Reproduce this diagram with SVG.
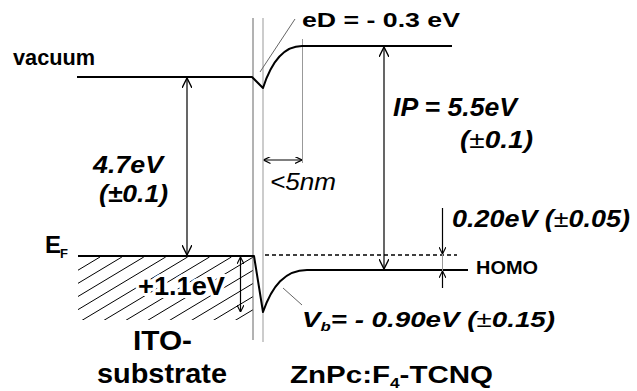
<svg xmlns="http://www.w3.org/2000/svg" width="637" height="391" viewBox="0 0 637 391">
<style>
  .lvl{fill:none;stroke:#000;stroke-width:2;stroke-linejoin:round}
  .arr{fill:none;stroke:#000;stroke-width:1.2}
  .thin{fill:none;stroke:#666;stroke-width:1}
  .lite{fill:none;stroke:#999;stroke-width:1}
  .dash{fill:none;stroke:#000;stroke-width:1.5;stroke-dasharray:4 3}
  .hatch{fill:none;stroke:#000;stroke-width:1}
  text{font-family:"Liberation Sans",Arial,sans-serif;font-weight:bold;fill:#000}
  .it{font-style:italic}
  .nw{font-weight:normal}
  .halo{paint-order:stroke;stroke:#fff;stroke-width:6;stroke-linejoin:round}
</style>
<defs>
  <marker id="ah" viewBox="0 0 10 10" refX="10" refY="5" markerWidth="10" markerHeight="10" markerUnits="userSpaceOnUse" orient="auto-start-reverse">
    <path d="M0,0 L10,5 L0,10" fill="none" stroke="#000" stroke-width="1.4"/>
  </marker>
  <marker id="as" viewBox="0 0 10 10" refX="10" refY="5" markerWidth="7" markerHeight="7" markerUnits="userSpaceOnUse" orient="auto-start-reverse">
    <path d="M0,0 L10,5 L0,10" fill="none" stroke="#000" stroke-width="1.6"/>
  </marker>
  <clipPath id="hclip"><rect x="78" y="257" width="175" height="63"/></clipPath>
</defs>

<g id="ito-substrate">
  <g clip-path="url(#hclip)">
    <path class="hatch" d="M-10,323 L100,257 M11.9,323 L121.9,257 M33.8,323 L143.8,257 M55.7,323 L165.7,257 M77.6,323 L187.6,257 M99.5,323 L209.5,257 M121.4,323 L231.4,257 M143.3,323 L253.3,257 M165.2,323 L275.2,257 M187.1,323 L297.1,257 M209,323 L319,257 M230.9,323 L340.9,257 M252.8,323 L362.8,257 M-31.9,323 L78.1,257"/>
  </g>
  <text x="133" y="350" font-size="27" textLength="59" lengthAdjust="spacingAndGlyphs">ITO-</text>
  <text x="97" y="383" font-size="27" textLength="130" lengthAdjust="spacingAndGlyphs">substrate</text>
</g>

<g id="interface">
  <line class="thin" x1="253" y1="18" x2="253" y2="340"/>
  <line class="lite" x1="263" y1="18" x2="263" y2="342"/>
  <line class="lite" x1="302.5" y1="39" x2="302.5" y2="163"/>
</g>

<g id="vacuum-level">
  <path class="lvl" d="M77,77 L252,77 L263,88 C271,63 284,46 302,46 L452,46"/>
  <text x="13" y="65" font-size="22" textLength="82" lengthAdjust="spacingAndGlyphs">vacuum</text>
</g>

<g id="fermi-level">
  <path class="lvl" d="M78,256 L254,256 L263,312 C272,286 285,270 307,270 L468,270"/>
  <line class="dash" x1="265" y1="255" x2="457" y2="255"/>
  <text x="45" y="253" font-size="24">E<tspan x="60" y="258" font-size="13">F</tspan></text>
  <text x="476" y="274" font-size="17.5" textLength="62" lengthAdjust="spacingAndGlyphs">HOMO</text>
</g>

<g id="connectors">
  <line class="arr" x1="187" y1="78" x2="187" y2="255" marker-start="url(#ah)" marker-end="url(#ah)"/>
  <line class="arr" x1="384" y1="47" x2="384" y2="269" marker-start="url(#ah)" marker-end="url(#ah)"/>
  <line class="arr" x1="240.5" y1="257" x2="240.5" y2="312" marker-start="url(#as)" marker-end="url(#as)"/>
  <line class="arr" x1="263.5" y1="160" x2="302" y2="160" marker-start="url(#as)" marker-end="url(#as)"/>
  <line class="arr" x1="442.5" y1="208" x2="442.5" y2="254" marker-end="url(#as)"/>
  <line class="arr" x1="442.5" y1="288" x2="442.5" y2="271" marker-end="url(#as)"/>
  <line class="lite" x1="442.5" y1="254" x2="442.5" y2="271"/>
  <line class="thin" x1="295" y1="19" x2="260" y2="72"/>
  <line class="thin" x1="283" y1="288" x2="302" y2="305"/>
</g>

<g id="labels">
  <text x="302" y="27" font-size="21" textLength="158" lengthAdjust="spacingAndGlyphs">eD = - 0.3 eV</text>
  <text class="it" x="393" y="116" font-size="25" textLength="124" lengthAdjust="spacingAndGlyphs">IP = 5.5eV</text>
  <text class="it" x="460" y="148" font-size="23" textLength="73" lengthAdjust="spacingAndGlyphs">(<tspan class="nw">±</tspan>0.1)</text>
  <text class="it" x="270" y="190" font-size="23" textLength="66" lengthAdjust="spacingAndGlyphs" style="font-weight:normal">&lt;5nm</text>
  <text class="it" x="93" y="173" font-size="24" textLength="70" lengthAdjust="spacingAndGlyphs">4.7eV</text>
  <text class="it" x="99" y="202" font-size="24" textLength="69" lengthAdjust="spacingAndGlyphs">(±0.1)</text>
  <text class="halo" x="138" y="295" font-size="25" textLength="87" lengthAdjust="spacingAndGlyphs">+1.1eV</text>
  <text class="it" x="452" y="227" font-size="23.5" textLength="178" lengthAdjust="spacingAndGlyphs">0.20eV (<tspan class="nw">±</tspan>0.05)</text>
  <text class="it" x="302" y="327" font-size="21.5" textLength="253" lengthAdjust="spacingAndGlyphs">V<tspan font-size="13" dy="4">b</tspan><tspan dy="-4">= - 0.90eV (</tspan><tspan class="nw">±</tspan>0.15)</text>
</g>

<g id="znpc-layer">
  <text x="290" y="383" font-size="24" textLength="203" lengthAdjust="spacingAndGlyphs">ZnPc:F<tspan font-size="14" dy="5">4</tspan><tspan dy="-5">-TCNQ</tspan></text>
</g>
</svg>
